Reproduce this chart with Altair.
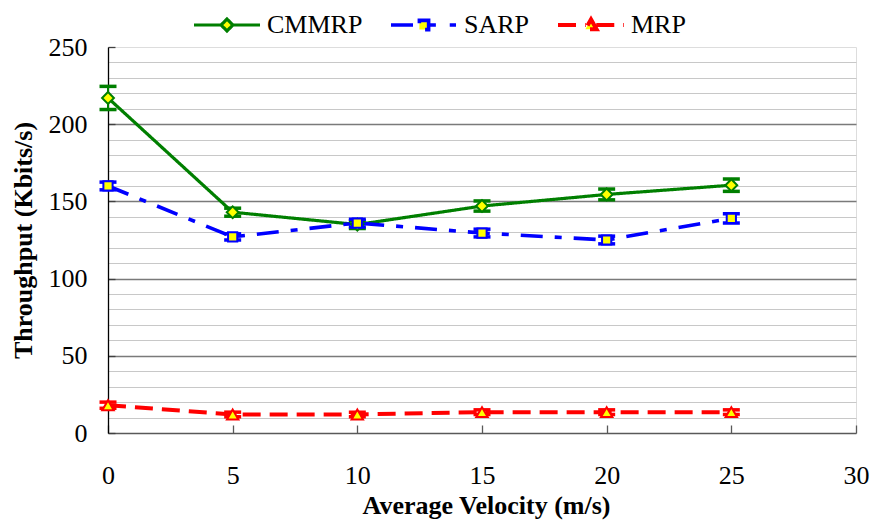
import altair as alt
import pandas as pd

# ---- data ----
series = ["CMMRP", "SARP", "MRP"]
velocity = [0, 5, 10, 15, 20, 25]
cmmrp = [217, 143, 135, 147, 154.5, 160.5]
cmmrp_err = [7.5, 2.6, 2.5, 3.3, 3.5, 4.0]
sarp = [160, 127, 136, 129.5, 125, 139]
sarp_err = [2.5, 2.0, 2.5, 2.5, 2.5, 3.0]
mrp = [18, 12, 12, 13.5, 13.5, 13.5]
mrp_err = [2.0, 1.5, 1.5, 1.5, 1.5, 1.5]
x_ticks = [0, 5, 10, 15, 20, 25, 30]
y_ticks = list(range(0, 251, 10))

rows = []
for name, vals, errs in [("CMMRP", cmmrp, cmmrp_err), ("SARP", sarp, sarp_err), ("MRP", mrp, mrp_err)]:
    for i, (x, v, e) in enumerate(zip(velocity, vals, errs)):
        rows.append({"series": name, "x": x, "y": v, "lo": v - e, "hi": v + e, "order": i})
df = pd.DataFrame(rows)

colors = ["#007F00", "#0000FF", "#FF0000"]
dashes = [[1, 0], [22, 12, 7, 12], [18, 9]]
widths = [3.2, 4, 4]
shapes = ["diamond", "square", "triangle-up"]
sizes = [140, 85, 130]
legend_paths = [
    "M-1,0L-0.18,0M0.18,0L1,0M0,-0.18L0.18,0L0,0.18L-0.18,0Z",
    "M-1,0L-0.14,0M0.14,0L0.36,0M0.78,0L0.97,0M-0.14,-0.14L0.14,-0.14L0.14,0.14L-0.14,0.14Z",
    "M-1,0L-0.16,0M0.16,0L1,0M0,-0.17L0.17,0.13L-0.17,0.13Z",
]

FONT = "Liberation Serif"


def pick(values):
    return ("datum.value === '%s' ? '%s' : datum.value === '%s' ? '%s' : '%s'"
            % (series[0], values[0], series[1], values[1], values[2]))


xscale = alt.Scale(domain=[0, 30], nice=False, zero=False)
yscale = alt.Scale(domain=[0, 250], nice=False)

x_axis = alt.Axis(
    values=x_ticks, tickCount=40, grid=False, labelFont=FONT, labelFontSize=26, labelColor="black",
    labelBaseline="alphabetic", labelPadding=58, labelFlush=False, labelOverlap=False,
    tickSize=alt.ExprRef(expr="-8"), tickColor="#595959", tickWidth=1.3,
    domainColor="#595959", domainWidth=1.3,
    title="Average Velocity (m/s)", titleFont=FONT, titleFontSize=26, titleFontWeight="bold",
    titleColor="black", titleX=378, titleY=80, titleBaseline="alphabetic",
)
y_axis = alt.Axis(
    values=y_ticks, tickCount=40, labelExpr="datum.value % 50 === 0 ? datum.label : ''",
    labelFont=FONT, labelFontSize=26, labelColor="black", labelPadding=28,
    labelFlush=False, labelOverlap=False,
    tickSize=alt.ExprRef(expr="-7"), tickColor="#404040", tickWidth=1.3,
    tickOpacity={"condition": {"test": "datum.value % 50 === 0", "value": 1}, "value": 0},
    domainColor="black", domainWidth=1.3,
    grid=True,
    gridColor={"condition": {"test": "datum.value % 50 === 0", "value": "#7a7a7a"}, "value": "#c8c8c8"},
    gridWidth={"condition": {"test": "datum.value % 50 === 0", "value": 1.4}, "value": 1.2},
    gridOpacity={"condition": {"test": "datum.value === 250 || datum.value === 0", "value": 0}, "value": 1},
    title="Throughput (Kbits/s)", titleFont=FONT, titleFontSize=26, titleFontWeight="bold",
    titleColor="black", titleAngle=270, titleX=-77, titleY=193, titleBaseline="alphabetic",
)

leg = alt.Legend(
    orient="none", legendX=84, legendY=-57, direction="horizontal", title=None,
    symbolSize=4356, symbolStrokeWidth=3, symbolOpacity=1,
    symbolType=alt.ExprRef(expr=pick(legend_paths)),
    symbolStrokeColor=alt.ExprRef(expr=pick(colors)),
    symbolFillColor="#FFFF00",
    symbolDash=[1, 0],
    labelFont=FONT, labelFontSize=26, labelColor="black", labelOffset=5,
    columnPadding=20, padding=0,
)

base = alt.Chart(df)
X = alt.X("x:Q", scale=xscale, axis=x_axis)
Y = alt.Y("y:Q", scale=yscale, axis=y_axis)

lines = base.mark_line().encode(
    x=X, y=Y,
    color=alt.Color("series:N", scale=alt.Scale(domain=series, range=colors), legend=leg),
    strokeDash=alt.StrokeDash("series:N", scale=alt.Scale(domain=series, range=dashes), legend=None),
    strokeWidth=alt.StrokeWidth("series:N", scale=alt.Scale(domain=series, range=widths), legend=None),
    order="order:Q",
)

layers = [lines]
for name, col, shp, sz in zip(series, colors, shapes, sizes):
    sb = base.transform_filter(alt.datum.series == name)
    layers.append(sb.mark_rule(strokeWidth=2, color=col).encode(x="x:Q", y="lo:Q", y2="hi:Q"))
    layers.append(sb.mark_tick(orient="horizontal", size=17, thickness=3.5, color=col, opacity=1).encode(x="x:Q", y="lo:Q"))
    layers.append(sb.mark_tick(orient="horizontal", size=17, thickness=3.5, color=col, opacity=1).encode(x="x:Q", y="hi:Q"))
for name, col, shp, sz in zip(series, colors, shapes, sizes):
    sb = base.transform_filter(alt.datum.series == name)
    layers.append(sb.mark_point(filled=False, shape=shp, size=sz, stroke=col, fill="#FFFF00",
                                fillOpacity=1, opacity=1, strokeWidth=2).encode(x="x:Q", y="y:Q"))

chart = alt.layer(*layers).properties(
    width=748, height=386,
    padding={"left": 108, "top": 47, "right": 18, "bottom": 88},
    autosize=alt.AutoSizeParams(type="none"),
    background="white",
).configure_view(stroke=None).configure(font=FONT)

chart.save("out.html", embed_options={"renderer": "svg", "actions": False})
